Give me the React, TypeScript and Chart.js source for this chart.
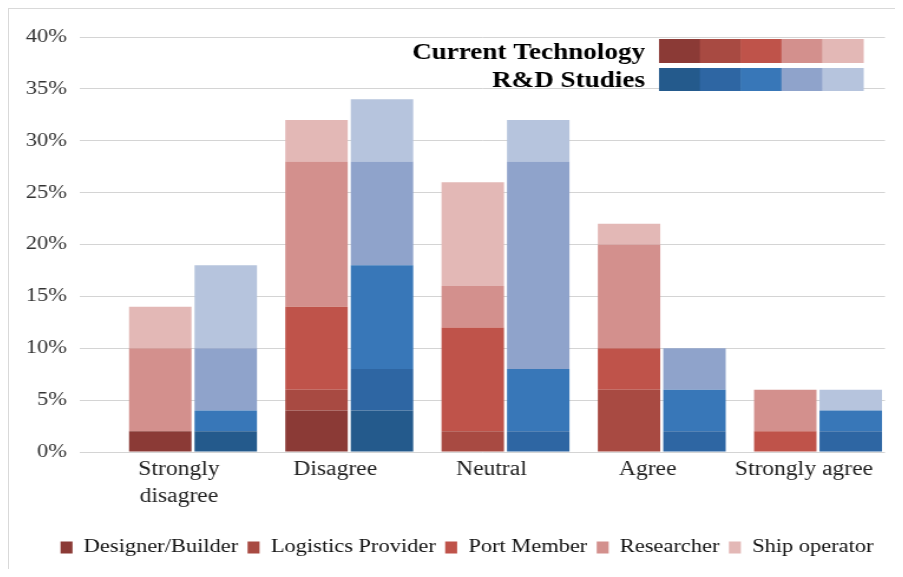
import React, { useEffect, useRef } from "react";
import { Chart, registerables } from "chart.js";

Chart.register(...registerables);

// ---------- data ----------
const categories: (string | string[])[] = [["Strongly", "disagree"], "Disagree", "Neutral", "Agree", "Strongly agree"];
const groups = ["Current Technology", "R&D Studies"];
const roles = ["Designer/Builder", "Logistics Provider", "Port Member", "Researcher", "Ship operator"];

// Current Technology (%)
const ctDesigner = [2, 4, 0, 0, 0];
const ctLogistics = [0, 2, 2, 6, 0];
const ctPort = [0, 8, 10, 4, 2];
const ctResearcher = [8, 14, 4, 10, 4];
const ctShip = [4, 4, 10, 2, 0];

// R&D Studies (%)
const rdDesigner = [2, 4, 0, 0, 0];
const rdLogistics = [0, 4, 2, 2, 2];
const rdPort = [2, 10, 6, 4, 2];
const rdResearcher = [6, 10, 20, 4, 0];
const rdShip = [8, 6, 4, 0, 2];

const Y_MIN = 0;
const Y_MAX = 40;
const Y_STEP = 5;

// ---------- styles ----------
const ctColors = ["#8B3A36", "#A84A42", "#BF534A", "#D3908D", "#E3B8B6"];
const rdColors = ["#245A8C", "#2E66A3", "#3877B8", "#8FA3CB", "#B6C4DD"];
const FONT = "'Liberation Serif', 'Times New Roman', serif";

// canvas is drawn narrower and shown stretched horizontally (like the reference)
const CSS_W = 893;
const CSS_H = 560;
const STRETCH = 1.18;
const BMP_W = Math.round(CSS_W / STRETCH);
const SX = CSS_W / BMP_W;
const px = (cssX: number) => cssX / SX;

// x-range (in category units) so categories sit where the reference places them
const X_MIN = -0.7232;
const X_MAX = 4.4288;
const LABEL_SHIFT = -0.09;
const LEGEND_SHIFT = px(20);

const topLegend = {
  id: "topLegend",
  afterDraw(chart: any) {
    const ctx = chart.ctx as CanvasRenderingContext2D;
    ctx.save();
    const rows = [
      { label: groups[0], colors: ctColors, top: 30, bottom: 54, textY: 44 },
      { label: groups[1], colors: rdColors, top: 59, bottom: 82, textY: 72 },
    ];
    rows.forEach((r) => {
      ctx.font = `bold 23px ${FONT}`;
      ctx.fillStyle = "#000";
      ctx.textAlign = "right";
      ctx.textBaseline = "middle";
      ctx.fillText(r.label, px(636), r.textY);
      const x0 = px(650);
      const x1 = px(854);
      const w = (x1 - x0) / r.colors.length;
      r.colors.forEach((c, i) => {
        ctx.fillStyle = c;
        ctx.fillRect(x0 + i * w, r.top, w + 0.6, r.bottom - r.top);
      });
    });
    ctx.restore();
  },
};

// nudge the bottom legend a little to the right, as in the reference
const legendShift = {
  id: "legendShift",
  afterLayout(chart: any) {
    const l = chart.legend;
    if (l) {
      l.left += LEGEND_SHIFT;
      l.right += LEGEND_SHIFT;
    }
  },
};

export default function App() {
  const ref = useRef<HTMLCanvasElement | null>(null);

  useEffect(() => {
    if (!ref.current) return;
    const ctSeries = [ctDesigner, ctLogistics, ctPort, ctResearcher, ctShip];
    const rdSeries = [rdDesigner, rdLogistics, rdPort, rdResearcher, rdShip];
    const mk = (vals: number[]) => vals.map((v, j) => ({ x: j, y: v }));
    const datasets: any[] = [
      ...ctSeries.map((vals, i) => ({
        label: roles[i],
        stack: "ct",
        data: mk(vals),
        backgroundColor: ctColors[i],
        borderWidth: 0,
        categoryPercentage: 0.838,
        barPercentage: 0.954,
      })),
      ...rdSeries.map((vals, i) => ({
        label: roles[i] + " (R&D)",
        stack: "rd",
        data: mk(vals),
        backgroundColor: rdColors[i],
        borderWidth: 0,
        categoryPercentage: 0.838,
        barPercentage: 0.954,
      })),
    ];

    const chart = new Chart(ref.current, {
      type: "bar",
      data: { datasets },
      plugins: [topLegend, legendShift],
      options: {
        animation: false,
        responsive: false,
        devicePixelRatio: 1,
        layout: { padding: { top: 28, left: 0, right: BMP_W - px(876), bottom: 2 } },
        plugins: {
          tooltip: { enabled: false },
          legend: {
            position: "bottom",
            labels: {
              filter: (item: any) => item.datasetIndex < 5,
              font: { family: FONT, size: 19 },
              color: "#111",
              boxWidth: px(12),
              boxHeight: 12,
              padding: 8,
            },
          },
        },
        scales: {
          x: {
            type: "linear",
            min: X_MIN,
            max: X_MAX,
            offset: false,
            grid: { display: false },
            border: { display: false },
            afterBuildTicks: (scale: any) => {
              scale.ticks = categories.map((_, i) => ({ value: i + LABEL_SHIFT }));
            },
            afterFit: (scale: any) => {
              scale.height = 78;
            },
            ticks: {
              autoSkip: false,
              maxRotation: 0,
              padding: -4,
              color: "#222",
              font: { family: FONT, size: 20, lineHeight: 1.35 },
              callback: (v: any) => categories[Math.round(Number(v) - LABEL_SHIFT)] as any,
            },
          },
          y: {
            stacked: true,
            min: Y_MIN,
            max: Y_MAX,
            border: { display: false },
            grid: { color: "#d4d4d4", lineWidth: 1, drawTicks: false },
            afterFit: (scale: any) => {
              scale.width = px(71);
            },
            ticks: {
              stepSize: Y_STEP,
              padding: px(13),
              color: "#333",
              font: { family: FONT, size: 19 },
              callback: (v: any) => `${v}%`,
            },
          },
        },
      } as any,
    });
    return () => chart.destroy();
  }, []);

  return (
    <div
      style={{
        borderTop: "1px solid #d9d9d9",
        borderLeft: "1px solid #d9d9d9",
        width: CSS_W,
        height: CSS_H,
        background: "#fff",
      }}
    >
      <canvas
        ref={ref}
        width={BMP_W}
        height={CSS_H}
        style={{ width: `${CSS_W}px`, height: `${CSS_H}px`, display: "block" }}
      />
    </div>
  );
}
